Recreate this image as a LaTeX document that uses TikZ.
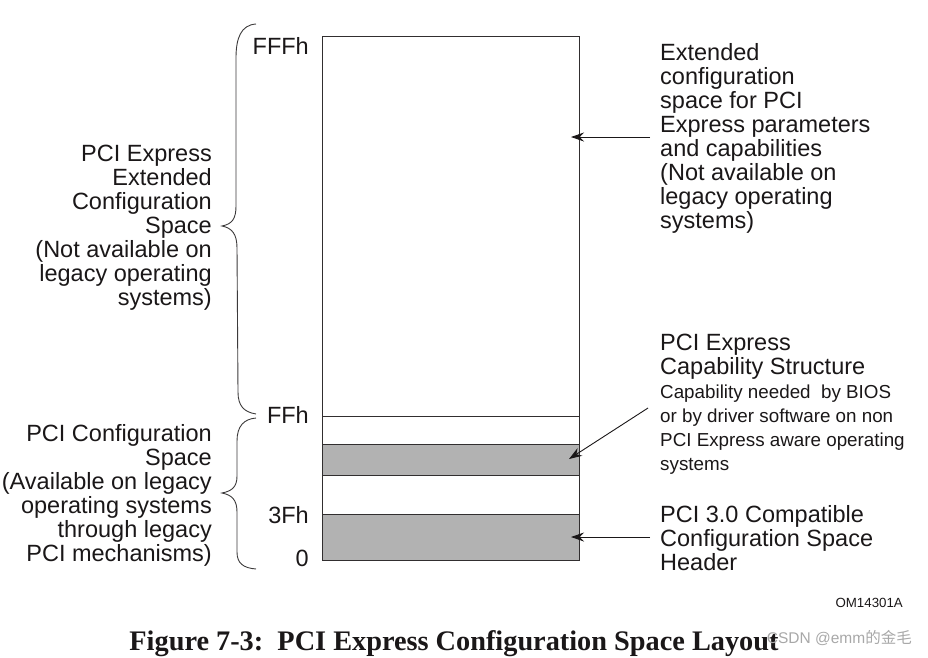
\documentclass[tikz,border=0pt]{standalone}
\usepackage{fontspec}
\setmainfont{Liberation Sans}
\newfontfamily\capfont{Liberation Serif}
\newfontfamily\cjkfont{Noto Sans CJK SC}
\usetikzlibrary{arrows.meta}
\definecolor{ink}{HTML}{1A1718}
\definecolor{band}{HTML}{B2B2B2}
\definecolor{wm}{HTML}{A8A8A8}
\tikzset{
  big/.style={font=\fontsize{23.5}{24}\selectfont, text=ink, inner sep=0pt},
  small/.style={font=\fontsize{18.8}{24}\selectfont, text=ink, inner sep=0pt},
  bracepath/.style={draw=ink!85, line width=0.9pt},
  pointer/.style={draw=ink, line width=0.9pt, -{Stealth[length=13pt,width=9pt]}},
  cell/.style={draw=ink!90, line width=1pt}
}
\begin{document}
\begin{tikzpicture}[x=1pt,y=-1pt]
\useasboundingbox (0,0) rectangle (928,657);
% main box
\coordinate (tl) at (322,36);
\coordinate (br) at (579,560);
\draw[cell, line width=0.9pt] (tl) rectangle (br);
\draw[cell, line width=0.9pt] (322,416) -- (579,416);
\filldraw[cell, fill=band] (322,444) rectangle (579,475);
\filldraw[cell, fill=band] (322,514) rectangle (579,560);
% address labels
\node[big, anchor=north east] (fffh) at (309,37) {FFFh};
\node[big, anchor=north east] (ffh) at (309,406) {FFh};
\node[big, anchor=north east] (h3f) at (309,506) {3Fh};
\node[big, anchor=north east] (h0) at (309,550) {0};
% braces
\draw[bracepath] (256,24) .. controls (241,25) and (236,38) .. (236,58) -- (236,206)
  .. controls (236,219) and (232,224) .. (222,226)
  .. controls (232,228) and (237,234) .. (237,248) -- (238,392)
  .. controls (238,406) and (244,412) .. (256,414);
\draw[bracepath] (256,418) .. controls (244,419) and (237,426) .. (237,441) -- (237,476)
  .. controls (237,487) and (232,491) .. (222,493)
  .. controls (232,495) and (237,500) .. (237,512) -- (237,552)
  .. controls (237,563) and (243,568) .. (256,569);
% left labels
\node[big, anchor=north east, align=right] (extl) at (212,145)
  {PCI Express\\Extended\\Configuration\\Space\\(Not available on\\legacy operating\\systems)};
\node[big, anchor=north east, align=right] (cfgl) at (212,424)
  {PCI Configuration\\Space\\(Available on legacy\\operating systems\\through legacy\\PCI mechanisms)};
% right labels
\node[big, anchor=north west, align=left] (extr) at (660,43)
  {Extended\\configuration\\space for PCI\\Express parameters\\and capabilities\\(Not available on\\legacy operating\\systems)};
\node[big, anchor=north west, align=left] (capr) at (660,334)
  {PCI Express\\Capability Structure};
\node[small, anchor=north west, align=left] (capd) at (660,385)
  {Capability needed\ \ by BIOS\\or by driver software on non\\PCI Express aware operating\\systems};
\node[big, anchor=north west, align=left] (hdr) at (660,505)
  {PCI 3.0 Compatible\\Configuration Space\\Header};
% arrows
\coordinate (a1s) at (650,137);
\coordinate (a1e) at (571,137);
\coordinate (a2s) at (648,408);
\coordinate (a2e) at (569,459);
\coordinate (a3s) at (650,537);
\coordinate (a3e) at (571,537);
\draw[pointer] (a1s) -- (a1e);
\draw[pointer] (a2s) -- (a2e);
\draw[pointer] (a3s) -- (a3e);
% footer
\node[anchor=base east, inner sep=0pt, text=ink, font=\fontsize{13.3}{14}\selectfont] (om) at (903,607) {OM14301A};
\node[anchor=base, inner sep=0pt, text=ink, font=\capfont\bfseries\fontsize{28.3}{30}\selectfont] (cap) at (454,650)
  {Figure 7-3:\ \ PCI Express Configuration Space Layout};
\node[anchor=base east, inner sep=0pt, text=wm, font=\fontsize{15.5}{17}\selectfont] (wmk) at (912,643)
  {CSDN @emm{\cjkfont 的金毛}};
\end{tikzpicture}
\end{document}
